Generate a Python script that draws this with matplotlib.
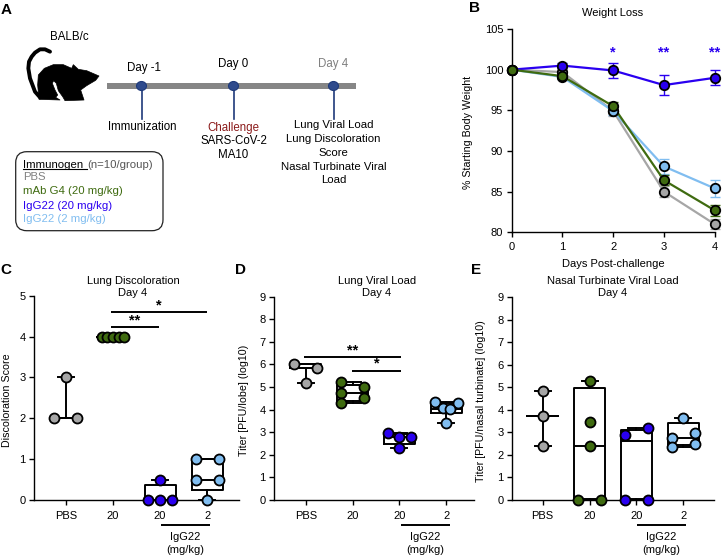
import matplotlib
matplotlib.use("Agg")
from matplotlib import pyplot as plt
from matplotlib.patches import Polygon, FancyBboxPatch, Ellipse, Rectangle

plt.rcParams["font.family"] = ["Liberation Sans", "DejaVu Sans"]
plt.rcParams["font.size"] = 8

W, H = 722, 556

GRAY = "#a6a6a6"
GREEN = "#3f6b10"
BLUE = "#2a00f0"
LIGHT = "#80bdf0"
group_colors = [GRAY, GREEN, BLUE, LIGHT]

# weight loss
days = [0, 1, 2, 3, 4]
weight_pbs = [100, 99.7, 94.9, 85.0, 81.0]
weight_g4 = [100, 99.2, 95.5, 86.4, 82.7]
weight_igg20 = [100, 100.5, 99.9, 98.1, 99.0]
weight_igg2 = [100, 99.1, 94.9, 88.1, 85.4]
err_pbs = [0, 0.2, 0.6, 0.7, 0.6]
err_g4 = [0, 0.2, 0.5, 0.6, 0.7]
err_igg20 = [0, 0.3, 0.9, 1.25, 0.9]
err_igg2 = [0, 0.2, 0.5, 0.9, 1.0]
weight_sig_days = [2, 3, 4]
weight_sig_text = ["*", "**", "**"]

group_labels = ["PBS", "20", "20", "2"]

# lung discoloration
disc_vals = [[3, 2, 2], [4, 4, 4, 4, 4], [0.5, 0, 0, 0], [1, 1, 0.5, 0.5, 0]]
disc_off = [[0, -0.24, 0.24], [-0.24, -0.12, 0, 0.12, 0.24], [0, -0.25, 0, 0.25], [-0.24, 0.24, -0.24, 0.24, 0]]
disc_low = [2, 4, 0, 0]
disc_q1 = [2, 4, 0, 0.25]
disc_med = [2, 4, 0, 0.5]
disc_q3 = [2, 4, 0.375, 1]
disc_high = [3, 4, 0.5, 1]

# lung viral load
lung_vals = [[6.02, 5.83, 5.16], [5.24, 5.0, 4.75, 4.5, 4.28], [2.95, 2.8, 2.8, 2.29], [4.32, 4.28, 4.06, 4.03, 3.39]]
lung_off = [[-0.25, 0.25, 0], [-0.25, 0.25, -0.25, 0.25, -0.25], [-0.24, 0, 0.25, 0], [-0.25, 0.25, -0.08, 0.08, 0]]
lung_low = [5.16, 4.28, 2.29, 3.39]
lung_q1 = [5.83, 4.38, 2.5, 3.85]
lung_med = [5.83, 4.75, 2.8, 4.05]
lung_q3 = [6.02, 5.1, 2.9, 4.3]
lung_high = [6.02, 5.24, 2.95, 4.32]

# nasal turbinate viral load
nasal_vals = [[4.85, 3.75, 2.4], [5.28, 3.45, 2.4, 0, 0], [3.2, 2.9, 0, 0], [3.65, 2.97, 2.75, 2.5, 2.37]]
nasal_off = [[0, 0, 0], [0, 0, 0, -0.25, 0.25], [0.25, -0.25, -0.25, 0.25], [0, 0.25, -0.25, 0.25, -0.25]]
nasal_low = [2.4, 0, 0, 2.37]
nasal_q1 = [3.75, 0.03, 0.03, 2.43]
nasal_med = [3.75, 2.4, 2.6, 2.75]
nasal_q3 = [3.75, 4.97, 3.12, 3.4]
nasal_high = [4.85, 5.28, 3.2, 3.65]


def make_axes(left, top, right, bottom, pad=4.5):
    ax = fig.add_axes([left / W, 1 - bottom / H, (right - left) / W, (bottom - top) / H])
    ax.spines["top"].set_visible(False)
    ax.spines["right"].set_visible(False)
    ax.spines["left"].set_linewidth(1.0)
    ax.spines["bottom"].set_linewidth(1.0)
    ax.tick_params(length=3.6, width=1.0, labelsize=8, pad=2.5)
    ax.tick_params(axis="x", pad=pad)
    ax.patch.set_alpha(0)
    return ax


def draw_groups(ax, vals, off, low, q1, med, q3, high):
    for i in range(4):
        stat = {"whislo": low[i], "q1": q1[i], "med": med[i], "q3": q3[i], "whishi": high[i], "fliers": []}
        line = {"color": "black", "linewidth": 1.4}
        ax.bxp([stat], positions=[i], widths=0.66, capwidths=0.34, showfliers=False, manage_ticks=False,
               boxprops=line, medianprops=line, whiskerprops=line, capprops=line, zorder=2)
        ax.plot([i + o for o in off[i]], vals[i], "o", ms=7.2, mew=1.3, mfc=group_colors[i], mec="black",
                clip_on=False, zorder=3)
    ax.set_xticks(range(4))
    ax.set_xticklabels(group_labels)


def sig_bar(ax, x0, x1, y, stars, star_x):
    ax.plot([x0, x1], [y, y], color="black", lw=1.4, solid_capstyle="butt")
    ax.annotate(stars, (star_x, y), xytext=(0, 5), textcoords="offset points", ha="center", va="center",
                fontsize=10.5, fontweight="bold")


fig = plt.figure(figsize=(W / 100, H / 100), dpi=100)

# B
ax_b = make_axes(511.7, 29, 714.7, 232.3, pad=3.5)
series = [(weight_pbs, err_pbs, GRAY), (weight_igg2, err_igg2, LIGHT), (weight_igg20, err_igg20, BLUE), (weight_g4, err_g4, GREEN)]
for vals, err, col in series:
    ax_b.errorbar(days, vals, yerr=err, color=col, lw=1.6, elinewidth=1.0, capsize=3.8, capthick=1.0, clip_on=False,
                  zorder=2)
    ax_b.plot(days, vals, "o", ms=6.8, mew=1.3, mfc=col, mec="black", clip_on=False, zorder=3)
for d, s in zip(weight_sig_days, weight_sig_text):
    ax_b.annotate(s, (d, 102.1), ha="center", va="center", color=BLUE, fontsize=10.5, fontweight="bold",
                  annotation_clip=False)
ax_b.set_xlim(0, 4)
ax_b.set_ylim(80, 105)
ax_b.set_xticks(days)
ax_b.set_yticks([80, 85, 90, 95, 100, 105])
ax_b.set_ylabel("% Starting Body Weight", fontsize=7.7)
ax_b.yaxis.set_label_coords((473 - 511.7) / 203, 0.49)

# C
ax_c = make_axes(34.3, 295.7, 238.7, 500)
draw_groups(ax_c, disc_vals, disc_off, disc_low, disc_q1, disc_med, disc_q3, disc_high)
sig_bar(ax_c, 0.95, 1.97, 4.23, "**", 1.45)
sig_bar(ax_c, 0.95, 3.0, 4.59, "*", 1.97)
ax_c.set_xlim(-0.665, 3.665)
ax_c.set_ylim(0, 5)
ax_c.set_yticks(range(6))
ax_c.set_ylabel("Discoloration Score", fontsize=7.7)
ax_c.yaxis.set_label_coords((11.7 - 34.3) / 204.4, 0.49)

# D
ax_d = make_axes(274.3, 296.7, 474, 500)
draw_groups(ax_d, lung_vals, lung_off, lung_low, lung_q1, lung_med, lung_q3, lung_high)
sig_bar(ax_d, -0.04, 2.04, 6.31, "**", 1.0)
sig_bar(ax_d, 0.99, 2.04, 5.72, "*", 1.52)
ax_d.set_xlim(-0.67, 3.59)
ax_d.set_ylim(0, 9)
ax_d.set_yticks(range(10))
ax_d.set_ylabel("Titer [PFU/lobe] (log10)", fontsize=7.7)
ax_d.yaxis.set_label_coords((249 - 274.3) / 199.7, 0.49)

# E
ax_e = make_axes(512.3, 297.3, 714.3, 500)
draw_groups(ax_e, nasal_vals, nasal_off, nasal_low, nasal_q1, nasal_med, nasal_q3, nasal_high)
ax_e.set_xlim(-0.648, 3.66)
ax_e.set_ylim(0, 9)
ax_e.set_yticks(range(10))
ax_e.set_ylabel("Titer [PFU/nasal turbinate] (log10)", fontsize=7.7)
ax_e.yaxis.set_label_coords((486 - 512.3) / 202, 0.49)

# overlay in pixel coords for schematic and free text
ov = fig.add_axes([0, 0, 1, 1], zorder=10)
ov.set_xlim(0, W)
ov.set_ylim(H, 0)
ov.axis("off")


def label(x, y, s, color="black", size=8, ha="center", **kw):
    return ov.text(x, y, s, color=color, fontsize=size, ha=ha, va="center_baseline", **kw)


for x, y, s in [(6, 8, "A"), (474, 7, "B"), (6, 268, "C"), (241, 268, "D"), (476, 268, "E")]:
    label(x, y, s, size=11, fontweight="bold")

label(613, 12, "Weight Loss")
label(613, 263, "Days Post-challenge")
label(133, 280, "Lung Discoloration")
label(133, 292, "Day 4")
label(377, 280, "Lung Viral Load")
label(377, 292, "Day 4")
label(613, 280, "Nasal Turbinate Viral Load")
label(613, 292, "Day 4")

# IgG22 brackets under the box plots
for x0, x1, xt in [(160.7, 210, 185.3), (401, 450, 425), (637, 686, 661)]:
    ov.plot([x0, x1], [525, 525], color="black", lw=1.4, solid_capstyle="butt")
    label(xt, 536, "IgG22")
    label(xt, 549, "(mg/kg)")

# timeline
ov.add_patch(Rectangle((107, 83), 249, 6, color="#868686", lw=0))
for x in [141.5, 233.5, 333.5]:
    ov.plot([x, x], [86, 119], color="#1f3a7a", lw=1.2, zorder=3)
    ov.add_patch(Ellipse((x, 86), 10, 9, fc="#2e4a8c", ec="#1f3a7a", lw=0.8, zorder=4))
label(69, 36, "BALB/c", size=8.3)
label(144, 66, "Day -1", size=8.3)
label(233, 63, "Day 0", size=8.3)
label(333, 63, "Day 4", color="#808080", size=8.3)
label(142, 126, "Immunization", size=8.3)
label(233.5, 126, "Challenge", color="#8b1a1a", size=8.3)
label(233.5, 139, "SARS-CoV-2", size=8.3)
label(233.5, 153, "MA10", size=8.3)
for y, s in [(124.5, "Lung Viral Load"), (137.5, "Lung Discoloration"), (152, "Score"),
             (166, "Nasal Turbinate Viral"), (179, "Load")]:
    label(333.5, y, s, size=8.2)

# immunogen legend box
ov.add_patch(FancyBboxPatch((15.7 + 11, 151.7 + 11), 147.3 - 22, 79 - 22, boxstyle="round,pad=11,rounding_size=11",
                            fc="white", ec="#222222", lw=0.9))
label(22.7, 163.5, "Immunogen", ha="left", size=8.2)
ov.plot([22.7, 87], [169, 169], color="black", lw=0.8)
label(87, 163.5, "(n=10/group)", color="#555555", ha="left", size=8.2)
label(22.7, 176, "PBS", color="#808080", ha="left", size=8.2)
label(22.7, 190.5, "mAb G4 (20 mg/kg)", color=GREEN, ha="left", size=8.2)
label(22.7, 205, "IgG22 (20 mg/kg)", color=BLUE, ha="left", size=8.2)
label(22.7, 218, "IgG22 (2 mg/kg)", color=LIGHT, ha="left", size=8.2)

# mouse icon
body = [(72, 178), (68, 135), (70, 105), (88, 85), (115, 74), (145, 74), (170, 85), (175, 74), (190, 88), (215, 92),
        (252, 108), (242, 121), (215, 137), (197, 150), (207, 180), (150, 182), (143, 170), (130, 152), (124, 130),
        (116, 122), (112, 130), (120, 150), (128, 165), (122, 172), (135, 180)]
tail = [(105, 35), (90, 28), (75, 28), (60, 38), (50, 50), (42, 65), (40, 85), (45, 115), (60, 155), (75, 172)]
ov.add_patch(Polygon([(15 + x / 3, 40 + y / 3) for x, y in body], closed=True, fc="black", ec="black", lw=0.5,
                     joinstyle="round"))
ov.plot([15 + x / 3 for x, y in tail], [40 + y / 3 for x, y in tail], color="black", lw=2.8, solid_capstyle="round")

fig.savefig("out.png", dpi=100)
